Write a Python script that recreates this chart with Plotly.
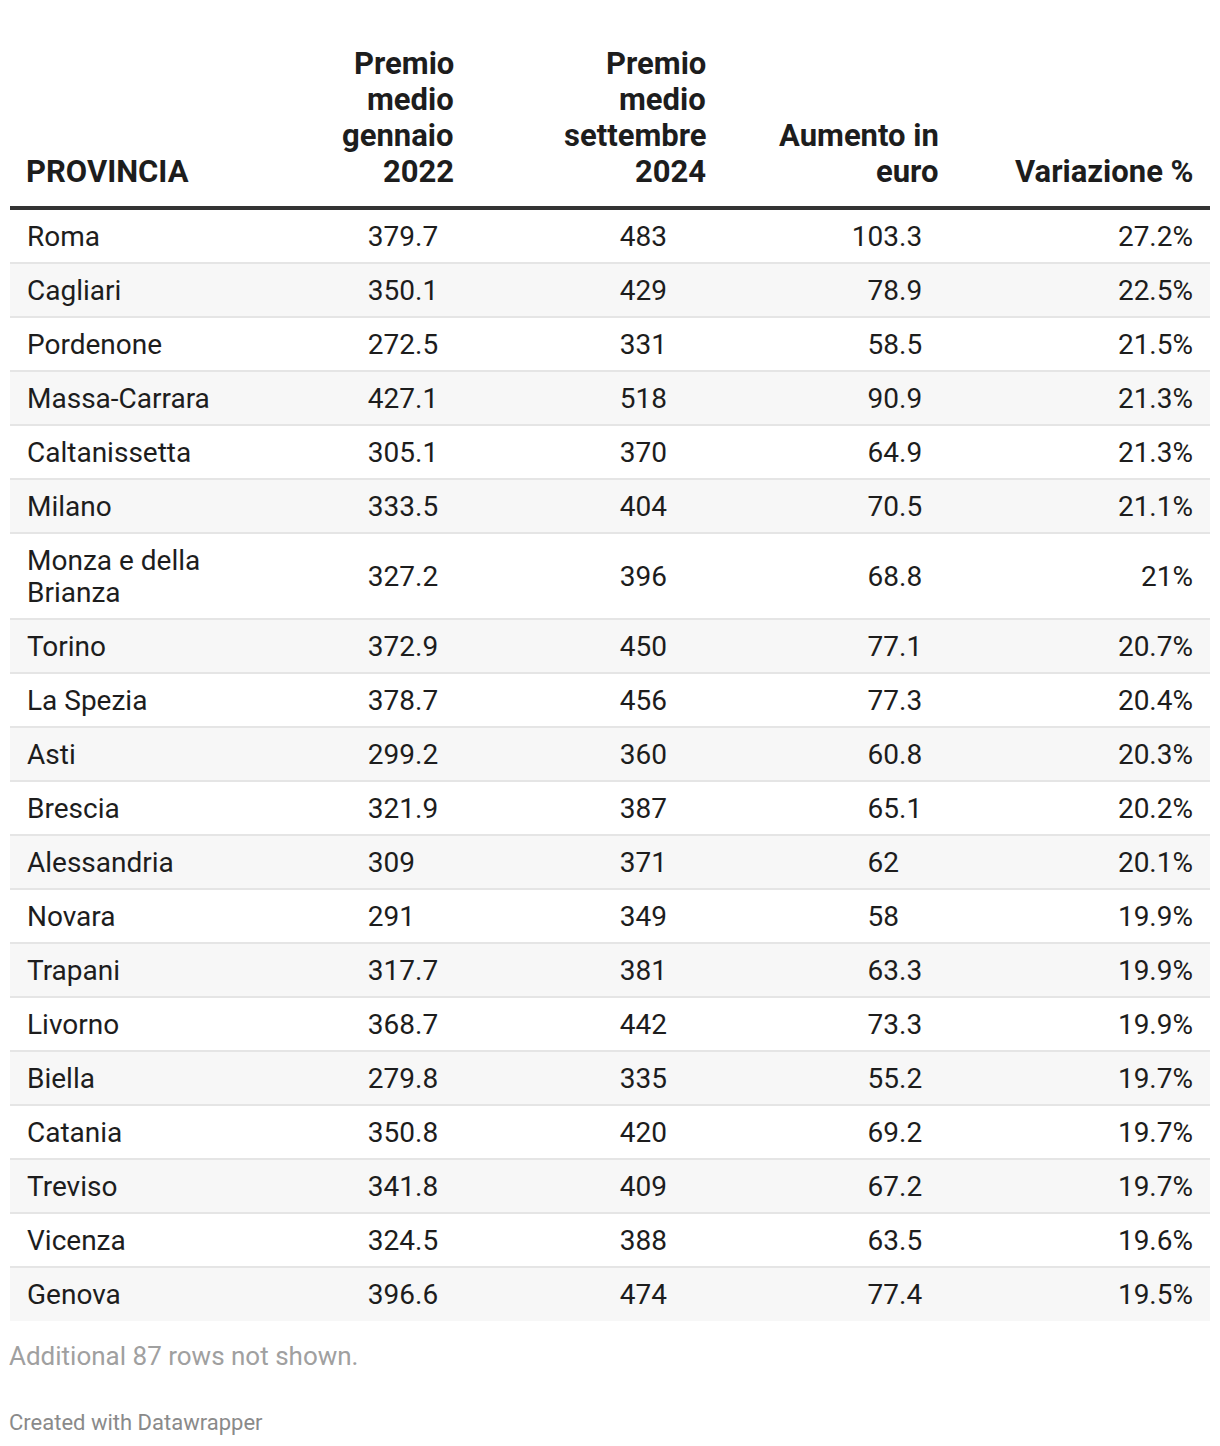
import textwrap
import plotly.graph_objects as go

# ---------------- data ----------------
province = ["Roma", "Cagliari", "Pordenone", "Massa-Carrara", "Caltanissetta", "Milano",
            "Monza e della Brianza", "Torino", "La Spezia", "Asti", "Brescia", "Alessandria",
            "Novara", "Trapani", "Livorno", "Biella", "Catania", "Treviso", "Vicenza", "Genova"]
premio_2022 = [379.7, 350.1, 272.5, 427.1, 305.1, 333.5, 327.2, 372.9, 378.7, 299.2,
               321.9, 309, 291, 317.7, 368.7, 279.8, 350.8, 341.8, 324.5, 396.6]
premio_2024 = [483, 429, 331, 518, 370, 404, 396, 450, 456, 360,
               387, 371, 349, 381, 442, 335, 420, 409, 388, 474]
aumento = [103.3, 78.9, 58.5, 90.9, 64.9, 70.5, 68.8, 77.1, 77.3, 60.8,
           65.1, 62, 58, 63.3, 73.3, 55.2, 69.2, 67.2, 63.5, 77.4]
variazione = [27.2, 22.5, 21.5, 21.3, 21.3, 21.1, 21, 20.7, 20.4, 20.3,
              20.2, 20.1, 19.9, 19.9, 19.9, 19.7, 19.7, 19.7, 19.6, 19.5]
headers = ["PROVINCIA", "Premio medio gennaio 2022", "Premio medio settembre 2024",
           "Aumento in euro", "Variazione %"]
note_text = "Additional 87 rows not shown."
credit_text = "Created with Datawrapper"

# ---------------- layout helpers ----------------
W, H = 1220, 1446
OFF = 8  # page body margin
FONT = "Roboto"
FS = 28
HFS = 31
DIGIT_W = 0.5615 * FS
TEXT = "#1d1d1d"
LEFT, RIGHT = 10, 1210
HEADER_LINE_Y = 208
ROW_H = 54
LINE_H = 32
HEAD_LINE_H = 36
TXT_DY = 3  # optical centering correction


def fmt(v):
    s = ("%.1f" % v).rstrip("0").rstrip(".")
    return s


def int_digits(v):
    return len(fmt(v).split(".")[0])


wrapped = [textwrap.wrap(p, 14) for p in province]
nlines = [len(w) for w in wrapped]

tops, centers = [], []
y = HEADER_LINE_Y + 1
for n in nlines:
    h = ROW_H + LINE_H * (n - 1)
    tops.append(y)
    centers.append(y + h / 2 + TXT_DY)
    y += h
table_bottom = y

shapes = []
for i, (t, n) in enumerate(zip(tops, nlines)):
    h = ROW_H + LINE_H * (n - 1)
    if i % 2 == 1:
        shapes.append(dict(type="rect", xref="x", yref="y", x0=LEFT, x1=RIGHT, y0=t, y1=t + h,
                           fillcolor="#f7f7f7", line=dict(width=0), layer="below"))
    if i > 0:
        shapes.append(dict(type="line", xref="x", yref="y", x0=LEFT, x1=RIGHT, y0=t, y1=t,
                           line=dict(color="#e5e5e5", width=2), layer="below"))
shapes.append(dict(type="line", xref="x", yref="y", x0=LEFT, x1=RIGHT,
                   y0=HEADER_LINE_Y, y1=HEADER_LINE_Y, line=dict(color="#333333", width=4)))

fig = go.Figure()

# province names (left-aligned, each wrapped line placed separately)
name_y, name_t = [], []
for lines, c in zip(wrapped, centers):
    n = len(lines)
    for k, ln in enumerate(lines):
        name_y.append(c + (k - (n - 1) / 2) * LINE_H)
        name_t.append(ln)
fig.add_trace(go.Scatter(x=[27] * len(name_t), y=name_y, text=name_t, mode="text",
                         textposition="middle right",
                         textfont=dict(family=FONT, size=FS, color=TEXT),
                         hoverinfo="skip", showlegend=False))

# decimal-aligned numeric columns: (values, integer-part right edge)
for vals, int_right in [(premio_2022, 415), (premio_2024, 667), (aumento, 899)]:
    xs = [int_right - int_digits(v) * DIGIT_W for v in vals]
    fig.add_trace(go.Scatter(x=xs, y=centers, text=[fmt(v) for v in vals], mode="text",
                             textposition="middle right",
                             textfont=dict(family=FONT, size=FS, color=TEXT),
                             hoverinfo="skip", showlegend=False))

# percent column (right-aligned)
fig.add_trace(go.Scatter(x=[1193] * len(variazione), y=centers,
                         text=[fmt(v) + "%" for v in variazione], mode="text",
                         textposition="middle left",
                         textfont=dict(family=FONT, size=FS, color=TEXT),
                         hoverinfo="skip", showlegend=False))

# headers (one annotation per wrapped line)
annotations = []
header_x = [27, 453, 705, 938, 1193]
header_anchor = ["left", "right", "right", "right", "right"]
header_lines = [[headers[0]], ["Premio", "medio", "gennaio", "2022"],
                ["Premio", "medio", "settembre", "2024"], ["Aumento in", "euro"], [headers[4]]]
for lines, x, anc in zip(header_lines, header_x, header_anchor):
    n = len(lines)
    for k, ln in enumerate(lines):
        annotations.append(dict(x=x, y=171 - (n - 1 - k) * HEAD_LINE_H,
                                xref="x", yref="y", text="<b>" + ln + "</b>",
                                showarrow=False, xanchor=anc, yanchor="middle", align=anc,
                                xshift=-3 if anc == "left" else 3,
                                font=dict(family=FONT, size=HFS, color="#1d1d1d")))

annotations.append(dict(x=LEFT, y=table_bottom + 35, xref="x", yref="y", text=note_text,
                        showarrow=False, xanchor="left", yanchor="middle", xshift=-3,
                        font=dict(family=FONT, size=26, color="#a0a0a0")))
annotations.append(dict(x=LEFT, y=1422, xref="x", yref="y", text=credit_text,
                        showarrow=False, xanchor="left", yanchor="middle", xshift=-3,
                        font=dict(family=FONT, size=22, color="#8a8a8a")))

fig.update_layout(
    width=W, height=H, margin=dict(l=0, r=0, t=0, b=0),
    paper_bgcolor="white", plot_bgcolor="white",
    xaxis=dict(range=[OFF, W + OFF], visible=False, fixedrange=True),
    yaxis=dict(range=[H + OFF, OFF], visible=False, fixedrange=True),
    shapes=shapes, annotations=annotations,
)

fig.write_html("out.html")
